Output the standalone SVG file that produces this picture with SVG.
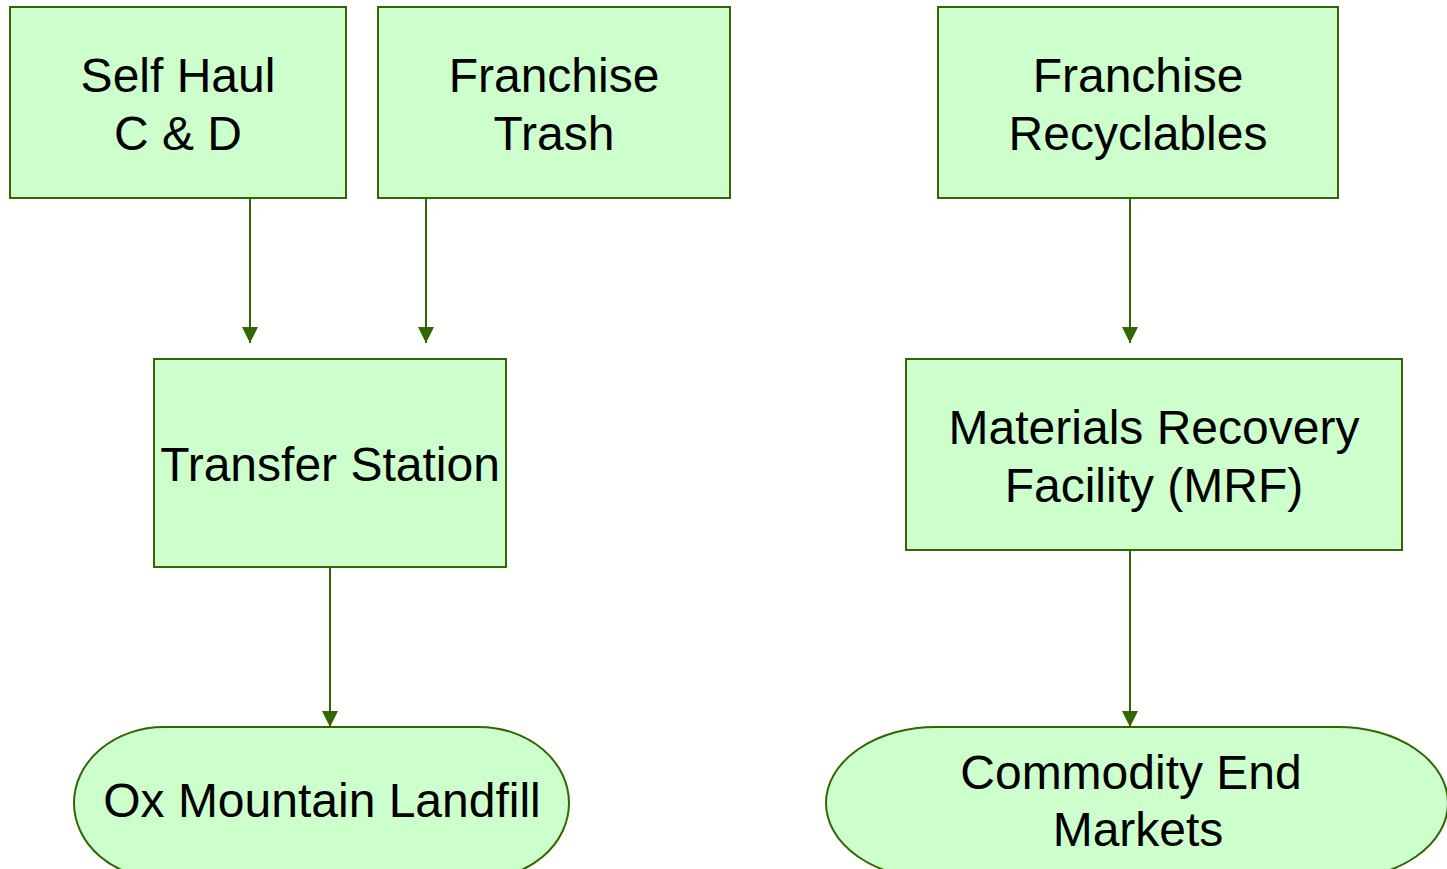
<svg xmlns="http://www.w3.org/2000/svg" width="1447" height="869" viewBox="0 0 1447 869">
  <style>
    .box { fill: #ccffcc; stroke: #336600; stroke-width: 2; }
    .lbl { font-family: "Liberation Sans", Arial, sans-serif; font-size: 48px; fill: #000; text-anchor: middle; }
    .wire { stroke: #336600; stroke-width: 2; fill: none; marker-end: url(#arrow); }
  </style>
  <defs>
    <marker id="arrow" markerUnits="userSpaceOnUse" markerWidth="16" markerHeight="16" viewBox="0 0 16 16" refX="16" refY="8" orient="auto">
      <path d="M0,0 L16,8 L0,16 Z" fill="#336600"/>
    </marker>
  </defs>

  <g id="connectors">
    <line class="wire" x1="250" y1="199" x2="250" y2="343"/>
    <line class="wire" x1="426" y1="199" x2="426" y2="343"/>
    <line class="wire" x1="1130" y1="199" x2="1130" y2="343"/>
    <line class="wire" x1="330" y1="568" x2="330" y2="727"/>
    <line class="wire" x1="1130" y1="551" x2="1130" y2="727"/>
  </g>

  <g id="self-haul">
    <rect class="box" x="10" y="7" width="336" height="191"/>
    <text class="lbl" x="178" y="92">Self Haul</text>
    <text class="lbl" x="178" y="150">C &amp; D</text>
  </g>

  <g id="franchise-trash">
    <rect class="box" x="378" y="7" width="352" height="191"/>
    <text class="lbl" x="554" y="92">Franchise</text>
    <text class="lbl" x="554" y="150">Trash</text>
  </g>

  <g id="franchise-recyclables">
    <rect class="box" x="938" y="7" width="400" height="191"/>
    <text class="lbl" x="1138" y="92">Franchise</text>
    <text class="lbl" x="1138" y="150">Recyclables</text>
  </g>

  <g id="transfer-station">
    <rect class="box" x="154" y="359" width="352" height="208"/>
    <text class="lbl" x="330" y="481">Transfer Station</text>
  </g>

  <g id="mrf">
    <rect class="box" x="906" y="359" width="496" height="191"/>
    <text class="lbl" x="1154" y="444">Materials Recovery</text>
    <text class="lbl" x="1154" y="502">Facility (MRF)</text>
  </g>

  <g id="ox-mountain-landfill">
    <rect class="box" x="74" y="727" width="495" height="152" rx="90" ry="76"/>
    <text class="lbl" x="322" y="817">Ox Mountain Landfill</text>
  </g>

  <g id="commodity-end-markets">
    <rect class="box" x="826" y="727" width="622" height="152" rx="110" ry="76"/>
    <text class="lbl" x="1131" y="789">Commodity End</text>
    <text class="lbl" x="1138" y="846">Markets</text>
  </g>
</svg>
